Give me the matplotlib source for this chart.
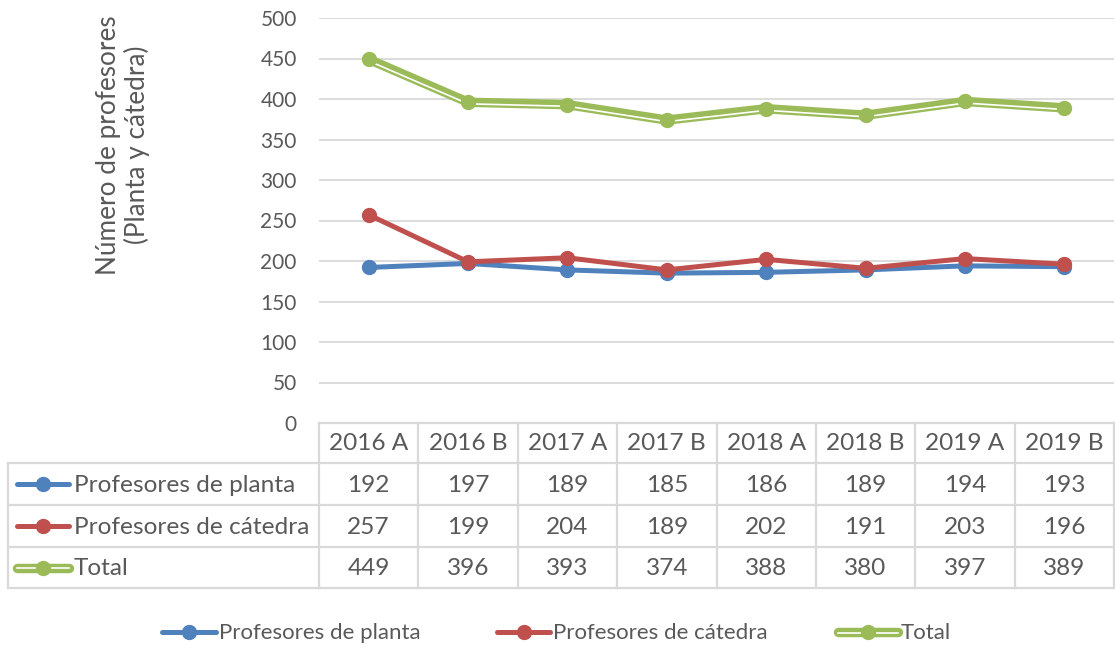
import matplotlib
matplotlib.use("Agg")
import matplotlib.pyplot as plt
import matplotlib.transforms as mtransforms

plt.rcParams['font.family'] = ['Lato', 'DejaVu Sans']

categories = ["2016 A", "2016 B", "2017 A", "2017 B", "2018 A", "2018 B", "2019 A", "2019 B"]
planta = [192, 197, 189, 185, 186, 189, 194, 193]
catedra = [257, 199, 204, 189, 202, 191, 203, 196]
total = [449, 396, 393, 374, 388, 380, 397, 389]
series_names = ["Profesores de planta", "Profesores de cátedra", "Total"]
yticks = [0, 50, 100, 150, 200, 250, 300, 350, 400, 450, 500]

BLUE = "#4f81bd"
RED = "#c0504d"
GREEN = "#9bbb59"
TXT = "#595959"
GRID = "#d9d9d9"

W, H = 1115, 646
fig = plt.figure(figsize=(W / 100, H / 100), dpi=100)

# overlay axes in pixel coordinates for table & legend
ov = fig.add_axes([0, 0, 1, 1])
ov.set_xlim(0, W)
ov.set_ylim(H, 0)
ov.axis("off")

# main plot axes
L, R, T, B = 319, 1114, 18, 423
ax = fig.add_axes([L / W, (H - B) / H, (R - L) / W, (B - T) / H])
ax.patch.set_alpha(0)
n = len(categories)
x = list(range(n))
ax.set_xlim(-0.5, n - 0.5)
ax.set_ylim(0, 500)
ax.set_yticks(yticks)
ax.set_xticks([])
for s in ax.spines.values():
    s.set_visible(False)
ax.tick_params(axis="y", length=0, pad=16, labelsize=15, labelcolor=TXT)
for v in yticks[1:]:
    ax.axhline(v, color=GRID, lw=1.3, zorder=0)

lw = 3.6
ms = 10
ax.plot(x, planta, color=BLUE, lw=lw, marker="o", ms=ms, zorder=3, solid_capstyle="round")
ax.plot(x, catedra, color=RED, lw=lw, marker="o", ms=ms, zorder=4, solid_capstyle="round")
ax.plot(x, total, color=GREEN, lw=6.8, zorder=5, solid_capstyle="round", solid_joinstyle="round")
off = mtransforms.offset_copy(ax.transData, fig=fig, x=0, y=-1.6, units="dots")
ax.plot(x, total, color="white", lw=1.2, zorder=6, transform=off)
ax.plot(x, total, color=GREEN, lw=0, marker="o", ms=ms, zorder=7)

fig.text(123 / W, 1 - 145 / H, "Número de profesores\n(Planta y cátedra)", rotation=90,
         ha="center", va="center", fontsize=18.8, color=TXT, linespacing=1.1)

# table
colw = (R - L) / n
row_edges = [423, 463, 505, 547, 588]
lc = GRID
tlw = 1.6
ov.plot([L, R], [row_edges[0], row_edges[0]], color=lc, lw=tlw)
for yv in row_edges[1:]:
    ov.plot([8, R], [yv, yv], color=lc, lw=tlw)
for i in range(n + 1):
    xv = L + i * colw
    ov.plot([xv, xv], [row_edges[0], row_edges[-1]], color=lc, lw=tlw)
ov.plot([8, 8], [row_edges[1], row_edges[-1]], color=lc, lw=tlw)

tfs = 17.6
for i, c in enumerate(categories):
    ov.text(L + (i + 0.5) * colw, (row_edges[0] + row_edges[1]) / 2 + 1, c, ha="center", va="center",
            fontsize=tfs, color=TXT)
colors = [BLUE, RED, GREEN]
data = [planta, catedra, total]


def key(x0, x1, yc, color, double):
    if double:
        ov.plot([x0, x1], [yc, yc], color=color, lw=6.8, solid_capstyle="round")
        ov.plot([x0, x1], [yc + 0.5, yc + 0.5], color="white", lw=1.2)
    else:
        ov.plot([x0, x1], [yc, yc], color=color, lw=3.6, solid_capstyle="round")
    ov.plot([(x0 + x1) / 2], [yc], marker="o", ms=10, color=color, lw=0)


for r in range(3):
    yc = (row_edges[r + 1] + row_edges[r + 2]) / 2
    key(17, 69, yc, colors[r], r == 2)
    ov.text(74, yc + 1, series_names[r], ha="left", va="center", fontsize=tfs, color=TXT)
    for i, v in enumerate(data[r]):
        ov.text(L + (i + 0.5) * colw, yc + 1, str(v), ha="center", va="center", fontsize=tfs, color=TXT)

# bottom legend
ly = 632
leg_pos = [(162, 216), (497, 550), (838, 898)]
for r in range(3):
    x0, x1 = leg_pos[r]
    key(x0, x1, ly, colors[r], r == 2)
    ov.text(x1 + 3, ly + 1, series_names[r], ha="left", va="center", fontsize=16, color=TXT)

fig.savefig("out.png", dpi=100)
